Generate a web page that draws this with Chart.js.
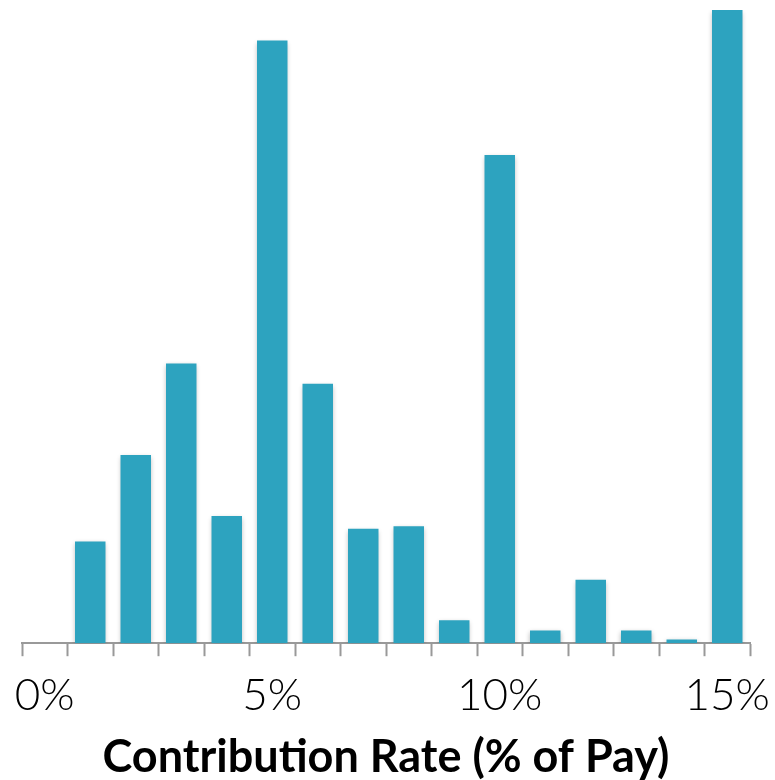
<!DOCTYPE html>
<html>
<head>
<meta charset="utf-8">
<script src="https://cdn.jsdelivr.net/npm/chart.js@4"></script>
<style>
    html, body { margin: 0; padding: 0; background: #fff; }
    #wrap { width: 775px; height: 780px; position: relative; }
</style>
</head>
<body>
<div id="wrap"><canvas id="chart-rates"></canvas></div>
<script>
// Share of participants (%) at each contribution rate
const rates = ['0%', '1%', '2%', '3%', '4%', '5%', '6%', '7%', '8%', '9%', '10%', '11%', '12%', '13%', '14%', '15%'];
const shares = [0, 4.0, 7.4, 11.0, 5.0, 23.7, 10.2, 4.5, 4.6, 0.9, 19.2, 0.5, 2.5, 0.5, 0.15, 24.9];

// soft drop shadow under the bars
const barShadow = {
    id: 'barShadow',
    beforeDatasetsDraw(chart) {
        const ctx = chart.ctx;
        ctx.save();
        ctx.shadowColor = 'rgba(0,0,0,0.3)';
        ctx.shadowBlur = 5;
        ctx.shadowOffsetX = 0;
        ctx.shadowOffsetY = 2;
    },
    afterDatasetsDraw(chart) {
        chart.ctx.restore();
    },
};

const ctx = document.getElementById('chart-rates').getContext('2d');
new Chart(ctx, {
    type: 'bar',
    data: {
        labels: rates,
        datasets: [{
            data: shares,
            backgroundColor: '#2DA3BF',
            borderWidth: 0,
            categoryPercentage: 1,
            barPercentage: 0.67,
        }],
    },
    plugins: [barShadow],
    options: {
        responsive: true,
        maintainAspectRatio: false,
        animation: false,
        layout: { padding: { top: 10, left: 22, right: 25, bottom: 0 } },
        plugins: { legend: { display: false }, tooltip: { enabled: false } },
        scales: {
            x: {
                // let the edge labels overhang instead of shrinking the plot
                afterFit(scale) {
                    scale.paddingLeft = 0;
                    scale.paddingRight = 0;
                },
                grid: {
                    offset: true,
                    drawOnChartArea: false,
                    tickLength: 13,
                    tickWidth: 2,
                    color: '#999',
                },
                border: { color: '#999', width: 2 },
                ticks: {
                    autoSkip: false,
                    maxRotation: 0,
                    padding: 13,
                    color: '#000',
                    font: { family: 'Lato', size: 44, weight: 300 },
                    callback(val, i) {
                        return i % 5 === 0 ? rates[i] : '';
                    },
                },
                title: {
                    display: true,
                    text: 'Contribution Rate (% of Pay)',
                    color: '#000',
                    font: { family: 'Lato', size: 45, weight: 'bold', lineHeight: 1 },
                    padding: { top: 0, bottom: 0 },
                },
            },
            y: {
                display: false,
                min: 0,
                max: 24.9,
            },
        },
    },
});
</script>
</body>
</html>
